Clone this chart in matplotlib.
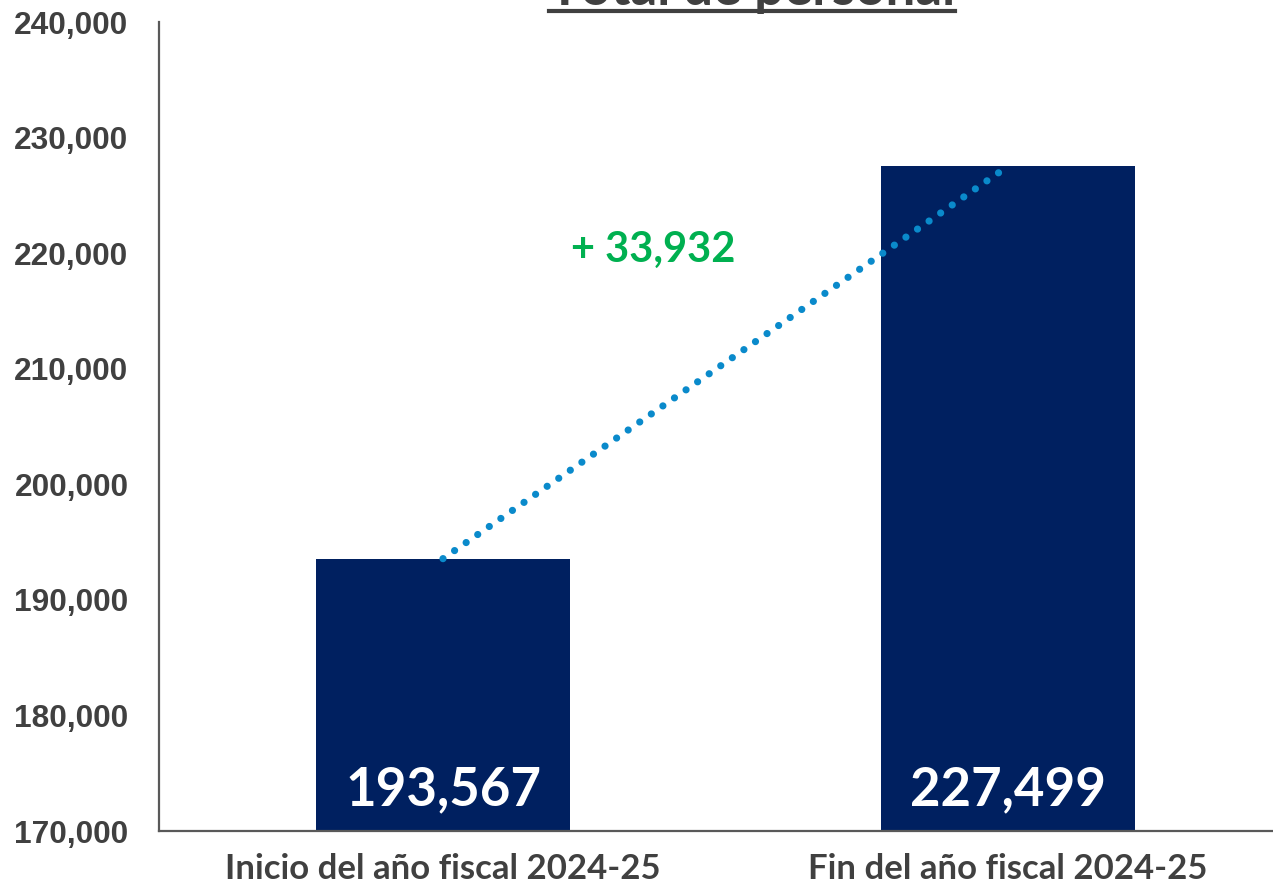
import matplotlib.pyplot as plt
from matplotlib.lines import Line2D
from matplotlib.ticker import FuncFormatter

categorias = ['Inicio del año fiscal 2024-25', 'Fin del año fiscal 2024-25']
personal = [193567, 227499]
diferencia = personal[1] - personal[0]
titulo = 'Total de personal'

gris = '#404040'
azul = '#002060'

fig = plt.figure(figsize=(12.73, 8.88), dpi=100)
ax = fig.add_axes([159 / 1273, 57 / 888, 1 - 159 / 1273, (831 - 22) / 888])

x = range(len(categorias))
ax.bar(x, personal, width=0.45, color=azul, zorder=2)

# linea punteada entre las cimas de las barras
ax.plot(x, personal, color='#0a8acb', linewidth=5.2,
        linestyle=(0, (0.001, 1.95)), dash_capstyle='round', zorder=3)

for i, v in zip(x, personal):
    ax.annotate(f'{v:,}', xy=(i, 170000), xytext=(0, 30), textcoords='offset points',
                ha='center', va='center', color='white', fontsize=38,
                fontweight='bold', family='Lato', zorder=4)

ax.text(0.373, 220300, f'+ {diferencia:,}', color='#00b050', fontsize=30,
        fontweight='bold', family='Lato', ha='center', va='center')

ax.set_xlim(-0.503, 1.47)
ax.set_ylim(170000, 240000)
ax.set_yticks(range(170000, 240001, 10000))
ax.yaxis.set_major_formatter(FuncFormatter(lambda v, p: f'{int(v):,}'))
ax.set_xticks(list(x))
ax.set_xticklabels(categorias)

for lab in ax.get_yticklabels():
    lab.set_fontfamily('Liberation Sans')
    lab.set_fontweight('bold')
    lab.set_fontsize(22.8)
    lab.set_color(gris)
for lab in ax.get_xticklabels():
    lab.set_fontfamily('Lato')
    lab.set_fontweight('bold')
    lab.set_fontsize(25)
    lab.set_color(gris)

ax.tick_params(axis='y', length=0, pad=22)
ax.tick_params(axis='x', length=0, pad=16)

for s in ['top', 'right']:
    ax.spines[s].set_visible(False)
for s in ['left', 'bottom']:
    ax.spines[s].set_color('#595959')
    ax.spines[s].set_linewidth(1.6)
ax.spines['bottom'].set_zorder(5)

# titulo subrayado, recortado por el borde superior
t = fig.text(752 / 1273, 1 - 5 / 888, titulo, ha='center', va='baseline',
             fontsize=38, fontweight='bold', family='Lato', color=gris)
fig.canvas.draw()
bb = t.get_window_extent()
W, H = fig.canvas.get_width_height()
fig.add_artist(Line2D([bb.x0 / W, bb.x1 / W], [1 - 11 / 888, 1 - 11 / 888],
                      color=gris, linewidth=3, transform=fig.transFigure))

fig.savefig('out.png', dpi=100)
